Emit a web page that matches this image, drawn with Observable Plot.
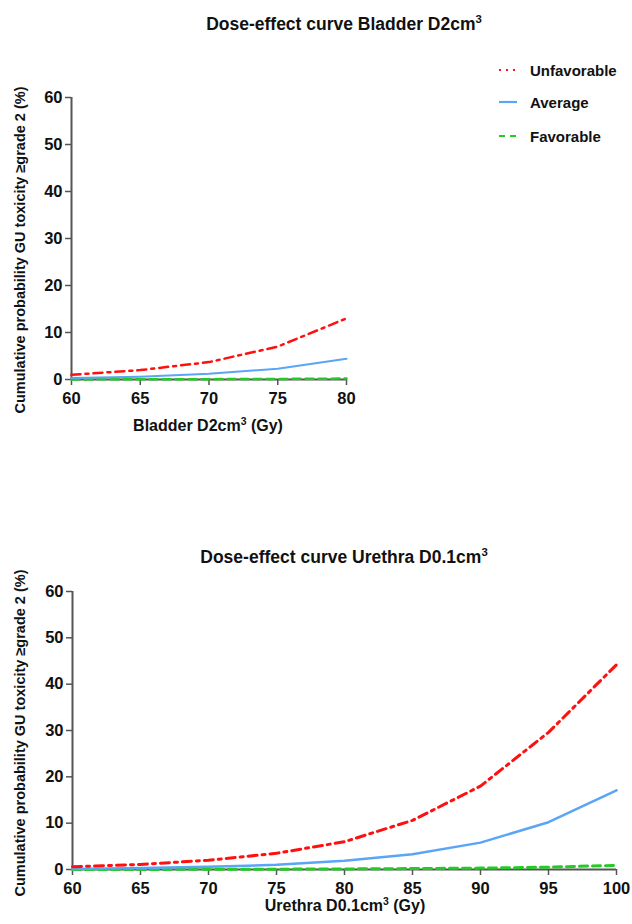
<!DOCTYPE html>
<html>
<head>
<meta charset="utf-8">
<script src="https://cdn.jsdelivr.net/npm/d3@7"></script>
<script src="https://cdn.jsdelivr.net/npm/@observablehq/plot@0.6"></script>
<style>
  html, body { margin: 0; padding: 0; background: #fff; }
  #root { position: relative; width: 632px; height: 924px; overflow: hidden;
          font-family: "Liberation Sans", Arial, sans-serif; color: #111; }
  .abs { position: absolute; white-space: nowrap; font-weight: bold; }
  .title { font-size: 17.5px; transform: translateX(-50%); }
  .xlabel { font-size: 16px; transform: translateX(-50%); }
  .ylabel { font-size: 14.5px; transform: translate(-50%, -50%) rotate(-90deg); }
  sup { font-size: 0.65em; vertical-align: 0; position: relative; top: -0.6em; }
  .legend-item { position: absolute; left: 497px; display: flex; align-items: center; font-weight: bold; font-size: 15px; }
  .legend-item svg { margin-right: 13px; }
  .chart { position: absolute; }
</style>
</head>
<body>
<div id="root">
  <div class="abs title" style="left:344px; top:14px;">Dose-effect curve Bladder D2cm<sup>3</sup></div>
  <div class="abs ylabel" style="left:20px; top:250px;">Cumulative probability GU toxicity ≥grade 2 (%)</div>
  <div class="abs xlabel" style="left:208px; top:417px;">Bladder D2cm<sup>3</sup> (Gy)</div>
  <div id="legend"></div>
  <div id="top" class="chart" style="left:0; top:80px;"></div>

  <div class="abs title" style="left:344px; top:547px;">Dose-effect curve Urethra D0.1cm<sup>3</sup></div>
  <div class="abs ylabel" style="left:20px; top:733px;">Cumulative probability GU toxicity ≥grade 2 (%)</div>
  <div class="abs xlabel" style="left:345px; top:897px;">Urethra D0.1cm<sup>3</sup> (Gy)</div>
  <div id="bottom" class="chart" style="left:0; top:570px;"></div>
</div>
<script>
// ---- Data ----
const seriesNames = ["Unfavorable", "Average", "Favorable"];
const seriesColors = ["#ff1010", "#5aa5f5", "#22cc22"];
const seriesDash = ["9,5,3,5", null, "8,5"];

const doseBladder = [60, 65, 70, 75, 80];
const bladderUnfav = [1.0, 2.0, 3.7, 7.0, 13.0];
const bladderAvg = [0.3, 0.6, 1.2, 2.3, 4.4];
const bladderFav = [0.02, 0.04, 0.07, 0.12, 0.2];

const doseUrethra = [60, 65, 70, 75, 80, 85, 90, 95, 100];
const urethraUnfav = [0.6, 1.1, 2.0, 3.5, 6.0, 10.6, 18.0, 29.6, 44.2];
const urethraAvg = [0.1, 0.3, 0.6, 1.0, 1.9, 3.3, 5.8, 10.2, 17.1];
const urethraFav = [0.0, 0.02, 0.04, 0.07, 0.12, 0.2, 0.3, 0.5, 0.9];

const yTicks = [0, 10, 20, 30, 40, 50, 60];
const xTicksBladder = [60, 65, 70, 75, 80];
const xTicksUrethra = [60, 65, 70, 75, 80, 85, 90, 95, 100];

function rows(dose, values, name) {
  return dose.map((d, i) => ({dose: d, p: values[i], series: name}));
}

function makeChart(opts) {
  const data = [
    rows(opts.dose, opts.unfav, "Unfavorable"),
    rows(opts.dose, opts.avg, "Average"),
    rows(opts.dose, opts.fav, "Favorable")
  ];
  const axisColor = "#555";
  return Plot.plot({
    width: opts.width,
    height: opts.height,
    marginLeft: opts.ml,
    marginRight: opts.mr,
    marginTop: opts.mt,
    marginBottom: opts.mb,
    style: {fontFamily: "'Liberation Sans', Arial, sans-serif", fontSize: "16px", fontWeight: "bold", color: "#111", background: "transparent", overflow: "visible"},
    x: {domain: [opts.xTicks[0], opts.xTicks[opts.xTicks.length - 1]]},
    y: {domain: [0, 60]},
    marks: [
      Plot.axisY({ticks: yTicks, tickSize: 6, tickPadding: 3, label: null, stroke: axisColor, strokeWidth: 1.5, fill: "#111", fontSize: 16.5}),
      Plot.axisX({ticks: opts.xTicks, tickSize: 6, tickPadding: 7, label: null, stroke: axisColor, strokeWidth: 1.5, fill: "#111", fontSize: 16.5}),
      Plot.ruleX([opts.xTicks[0]], {stroke: axisColor, strokeWidth: 2}),
      Plot.ruleY([0], {stroke: axisColor, strokeWidth: 2}),
      Plot.line(data[2], {x: "dose", y: "p", stroke: seriesColors[2], strokeWidth: opts.sw + 0.5, strokeDasharray: seriesDash[2]}),
      Plot.line(data[1], {x: "dose", y: "p", stroke: seriesColors[1], strokeWidth: opts.sw}),
      Plot.line(data[0], {x: "dose", y: "p", stroke: seriesColors[0], strokeWidth: opts.sw + 0.5, strokeDasharray: seriesDash[0]})
    ]
  });
}

document.getElementById("top").appendChild(makeChart({
  dose: doseBladder, unfav: bladderUnfav, avg: bladderAvg, fav: bladderFav,
  xTicks: xTicksBladder, width: 360, height: 360, ml: 71, mr: 14, mt: 17, mb: 61, sw: 2
}));

document.getElementById("bottom").appendChild(makeChart({
  dose: doseUrethra, unfav: urethraUnfav, avg: urethraAvg, fav: urethraFav,
  xTicks: xTicksUrethra, width: 632, height: 354, ml: 72, mr: 16, mt: 21, mb: 55, sw: 2.5
}));

// Legend
const legend = document.getElementById("legend");
const legendTops = [61, 93, 127];
seriesNames.forEach((name, i) => {
  const item = document.createElement("div");
  item.className = "legend-item";
  item.style.top = legendTops[i] + "px";
  const dash = i === 0 ? "2,5" : (i === 2 ? "6,5" : null);
  item.innerHTML = `<svg width="20" height="18"><line x1="2" x2="20" y1="9" y2="9" stroke="${seriesColors[i]}" stroke-width="2.2" ${dash ? `stroke-dasharray="${dash}"` : ""}/></svg><span>${name}</span>`;
  legend.appendChild(item);
});
</script>
</body>
</html>
